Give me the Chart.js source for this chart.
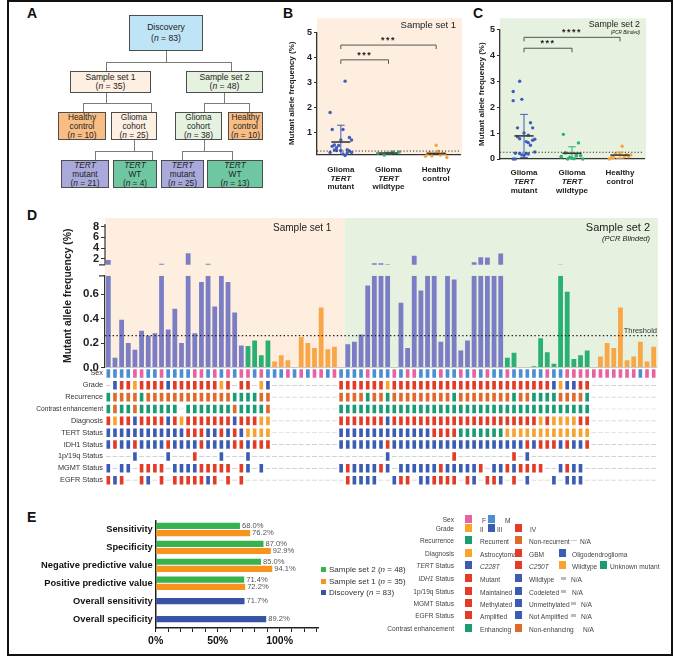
<!DOCTYPE html>
<html>
<head>
<meta charset="utf-8">
<title>TERT promoter mutant allele frequency</title>
<script src="https://cdn.jsdelivr.net/npm/chart.js@4.4.1/dist/chart.umd.min.js"></script>
<style>
  html, body { margin: 0; padding: 0; background: #fff; }
  body { font-family: 'Liberation Sans', Arial, sans-serif; color: #222; }
  #fig { position: relative; width: 676px; height: 657px; overflow: hidden; }
  #frame { position: absolute; left: 7px; top: 0; width: 666px; height: 656px; border: 2px solid #111; box-sizing: border-box; }
  .tag { position: absolute; font: bold 14px/14px 'Liberation Sans', Arial, sans-serif; color: #111; }
  .box { position: absolute; box-sizing: border-box; border: 1.3px solid #4d4d4d; display: flex; align-items: center; justify-content: center; text-align: center; font-size: 8.3px; line-height: 9px; color: #222; }
  .ln { position: absolute; background: #7a7a7a; }
  canvas { position: absolute; }
  .leg { position: absolute; font-size: 8px; line-height: 9px; color: #333; white-space: nowrap; }
  .key { position: absolute; font-size: 6.6px; line-height: 8px; color: #444; white-space: nowrap; }
</style>
</head>
<body>
<div id="fig">
  <div id="frame"></div>

  <div class="tag" style="left:27px;top:6px">A</div>
  <div class="tag" style="left:283px;top:6px">B</div>
  <div class="tag" style="left:473px;top:6px">C</div>
  <div class="tag" style="left:27px;top:208px">D</div>
  <div class="tag" style="left:27px;top:510px">E</div>

  <!-- panel A: cohort flow chart -->
  <div class="ln" style="left:166px;top:51px;width:1.3px;height:11px"></div>
  <div class="ln" style="left:106px;top:62px;width:126px;height:1.3px"></div>
  <div class="ln" style="left:106px;top:62px;width:1.3px;height:9px"></div>
  <div class="ln" style="left:231px;top:62px;width:1.3px;height:9px"></div>
  <div class="ln" style="left:106px;top:93px;width:1.3px;height:10px"></div>
  <div class="ln" style="left:83px;top:103px;width:69px;height:1.3px"></div>
  <div class="ln" style="left:83px;top:103px;width:1.3px;height:9px"></div>
  <div class="ln" style="left:151px;top:103px;width:1.3px;height:9px"></div>
  <div class="ln" style="left:224px;top:93px;width:1.3px;height:10px"></div>
  <div class="ln" style="left:204px;top:103px;width:46px;height:1.3px"></div>
  <div class="ln" style="left:204px;top:103px;width:1.3px;height:9px"></div>
  <div class="ln" style="left:249px;top:103px;width:1.3px;height:9px"></div>
  <div class="ln" style="left:134px;top:140px;width:1.3px;height:11px"></div>
  <div class="ln" style="left:95px;top:151px;width:58px;height:1.3px"></div>
  <div class="ln" style="left:95px;top:151px;width:1.3px;height:9px"></div>
  <div class="ln" style="left:152px;top:151px;width:1.3px;height:9px"></div>
  <div class="ln" style="left:204px;top:140px;width:1.3px;height:11px"></div>
  <div class="ln" style="left:182px;top:151px;width:51px;height:1.3px"></div>
  <div class="ln" style="left:182px;top:151px;width:1.3px;height:9px"></div>
  <div class="ln" style="left:232px;top:151px;width:1.3px;height:9px"></div>

  <div class="box" style="left:129px;top:15px;width:74px;height:36px;background:#bfe4f6;font-size:8.6px;line-height:11px"><span>Discovery<br>(<i>n</i> = 83)</span></div>
  <div class="box" style="left:70px;top:71px;width:81px;height:22px;background:#fdf0e3;font-size:8.6px"><span>Sample set 1<br>(<i>n</i> = 35)</span></div>
  <div class="box" style="left:186px;top:71px;width:77px;height:22px;background:#e6f2e0;font-size:8.6px"><span>Sample set 2<br>(<i>n</i> = 48)</span></div>
  <div class="box" style="left:58px;top:112px;width:48px;height:28px;background:#f9bd84"><span>Healthy<br>control<br>(<i>n</i> = 10)</span></div>
  <div class="box" style="left:111px;top:112px;width:46px;height:28px;background:#fdf0e3"><span>Glioma<br>cohort<br>(<i>n</i> = 25)</span></div>
  <div class="box" style="left:175px;top:112px;width:47px;height:28px;background:#e6f2e0"><span>Glioma<br>cohort<br>(<i>n</i> = 38)</span></div>
  <div class="box" style="left:228px;top:112px;width:35px;height:28px;background:#f9bd84"><span>Healthy<br>control<br>(<i>n</i> = 10)</span></div>
  <div class="box" style="left:61px;top:160px;width:48px;height:28px;background:#a9aadb"><span><i>TERT</i><br>mutant<br>(<i>n</i> = 21)</span></div>
  <div class="box" style="left:113px;top:160px;width:44px;height:28px;background:#6fc7a2"><span><i>TERT</i><br>WT<br>(<i>n</i> = 4)</span></div>
  <div class="box" style="left:161px;top:160px;width:43px;height:28px;background:#a9aadb"><span><i>TERT</i><br>mutant<br>(<i>n</i> = 25)</span></div>
  <div class="box" style="left:207px;top:160px;width:56px;height:28px;background:#6fc7a2"><span><i>TERT</i><br>WT<br>(<i>n</i> = 13)</span></div>

  <canvas id="chartB" width="194" height="192" style="left:272px;top:8px"></canvas>
  <canvas id="chartC" width="200" height="192" style="left:455px;top:8px"></canvas>
  <canvas id="chartD" width="664" height="290" style="left:8px;top:205px"></canvas>
  <canvas id="chartE" width="320" height="143" style="left:8px;top:512px"></canvas>

  <!-- panel E legend -->
  <div style="position:absolute;left:321px;top:567px;width:5px;height:5px;background:#37b24d"></div>
  <div class="leg" style="left:329px;top:565px">Sample set 2 (<i>n</i> = 48)</div>
  <div style="position:absolute;left:321px;top:579px;width:5px;height:5px;background:#f7941d"></div>
  <div class="leg" style="left:329px;top:577px">Sample set 1 (<i>n</i> = 35)</div>
  <div style="position:absolute;left:321px;top:590px;width:5px;height:5px;background:#3953a4"></div>
  <div class="leg" style="left:329px;top:588px">Discovery (<i>n</i> = 83)</div>
  <div id="keyBox"></div>
</div>

<script>
// ---------- data ----------
// Panel D: mutant allele frequency (%) per patient
const set1Values = [1.8, 0.08, 0.39, 0.2, 0.145, 0.3, 0.26, 0.28, 1.12, 0.31, 0.48, 0.2, 3.05, 0.28, 0.7, 1.12, 0.5, 0.8, 0.7, 0.45, 0.18,
                    0.175, 0.22, 0.1, 0.22,
                    0.05, 0.1, 0.06, 0, 0.25, 0.2, 0.16, 0.49, 0.15, 0.17];
const set2Values = [0, 0.19, 0.21, 0.27, 0.67, 1.2, 1.2, 1.0, 0, 0.53, 0.16, 2.6, 0.63, 0.78, 0.76, 0.21, 0.86, 0.72, 0.14, 0.22, 1.4, 2.3, 2.25, 0.92, 3.0,
                    0.08, 0.12, 0, 0, 0.01, 0.24, 0.125, 0.03, 0.95, 0.62, 0.07, 0.1, 0.14,
                    0, 0.09, 0.2, 0.16, 0.49, 0.06, 0.09, 0.21, 0.05, 0.17];
// patients per group: glioma TERT mutant, glioma TERT wildtype, healthy control
const set1Counts = [21, 4, 10];
const set2Counts = [25, 13, 10];
const groupNames = [['Glioma', 'TERT', 'mutant'], ['Glioma', 'TERT', 'wildtype'], ['Healthy', 'control']];

// Panels B and C: group mean and SD as drawn
const set1Mean = [0.62, 0.18, 0.16];
const set1Sd = [0.67, 0.03, 0.05];
const set2Mean = [0.89, 0.22, 0.15];
const set2Sd = [0.83, 0.25, 0.12];
const set1Brackets = [{ from: 0, to: 1, y: 3.9, label: '***' }, { from: 0, to: 2, y: 4.49, label: '***' }];
const set2Brackets = [{ from: 0, to: 1, y: 4.27, label: '***' }, { from: 0, to: 2, y: 4.69, label: '****' }];
const threshold = 0.26;

// Panel D clinical tracks, one character per patient (set 1 then set 2), '-' = N/A
const heatRowNames = ['Sex', 'Grade', 'Recurrence', 'Contrast enhancement', 'Diagnosis', 'TERT Status', 'IDH1 Status', '1p/19q Status', 'MGMT Status', 'EGFR Status'];
const heatSet1 = [
  'MMMMF FMMFM MMMFF MFMFM FFMFM MMFMF MFFMF',
  '-3442 44443 44444 4424- 44-23 ----- -----',
  'RNNNN RNNNN NNNNN NNNNR RRRNN ----- -----',
  'EXEEX EEEEE E-EEE EEEEX EEEEX ----- -----',
  'GAGGO GGGGO GAGGG GGGGO GGGAA ----- -----',
  'CCCCC CCCCC CCTTT CCTCT CWWWW ----- -----',
  'WMWWM WWWWM WWWWM WWWWM MWMMM ----- -----',
  '----D ----D ---K- --D-- -D--- ----- -----',
  'U-UU- YYYY- UUUUY YYYY- YU-U- ----- -----',
  'ANA-- AN-A- AAAAA NA-A- A---- ----- -----'
];
const heatSet2 = [
  'MMMMF MMMFM FFMMM FMMFM FMFMM FMMMM MFMMF FFFFF FFFFF MFF',
  '44444 44244 44444 44444 44444 44444 44323 344-- ----- ---',
  'NNNNR NNRNN NNNNN NNRNN NNNNN NRNNR RRRNN NNR-- ----- ---',
  'EEEEE EEEEE EEEEE EEEEE EEEEE EEEEE EEEEE EEE-- ----- ---',
  'GGGGG GGOGG GGGGG GGGGG GGGGG GGGGG AGAAA AGG-- ----- ---',
  'CCCCC CCCCC CCCCT TTTUU UUUUU WWWWW WWWWW WWW-- ----- ---',
  'WWWWW WWMWW WWWWW WWWWW WWWWW WWWMW MMMWM WWM-- ----- ---',
  '----- --D-- ----- --K-- ----- -K-D- ----- ----- ----- ---',
  'UYUUU UYU-U UUUUU YUUUU UY-UU YUYYY Y--UY UU--- ----- ---',
  '-ANNN N--NA A-NNA AAA-A N-AAN -A-N- --N-N NN--- ----- ---'
];

// Panel E: diagnostic performance (%)
const metricLabels = ['Sensitivity', 'Specificity', 'Negative predictive value', 'Positive predictive value', 'Overall sensitivity', 'Overall specificity'];
const set2Metrics = [68.0, 87.0, 85.0, 71.4, null, null];
const set1Metrics = [76.2, 92.9, 94.1, 72.2, null, null];
const discoveryMetrics = [null, null, null, null, 71.7, 89.2];

// ---------- styling ----------
const FONT = "'Liberation Sans', Arial, Helvetica, sans-serif";
Chart.defaults.font.family = FONT;
Chart.defaults.color = '#222';
Chart.defaults.animation = false;
Chart.defaults.plugins.legend.display = false;
Chart.defaults.plugins.tooltip.enabled = false;

const ORANGE = '#f9a22e', BLUE = '#3b5cb3', RED = '#e33b25', GREEN = '#199b74', BROWN = '#e16a2a';
const heatPalette = [
  { M: '#4a8ed3', F: '#e8629f' },
  { '2': ORANGE, '3': BLUE, '4': RED },
  { R: GREEN, N: BROWN },
  { E: GREEN, X: BROWN },
  { A: ORANGE, G: RED, O: BLUE },
  { C: BLUE, T: RED, W: ORANGE, U: GREEN },
  { M: RED, W: BLUE },
  { K: RED, D: BLUE },
  { Y: RED, U: BLUE },
  { A: RED, N: BLUE }
];
const barColors = ['#7b7ec4', '#2aaf75', '#f9a646'];
const dotColors = ['#3f5fbb', '#2db370', '#f7a43e'];

function groupIndex(counts) {
  const out = [];
  counts.forEach((n, g) => { for (let i = 0; i < n; i++) out.push(g); });
  return out;
}
const set1Groups = groupIndex(set1Counts);
const set2Groups = groupIndex(set2Counts);

// ---------- panels B and C ----------
function dotPlot(id, values, groups, mean, sd, brackets, o) {
  const pts = [[], [], []];
  const seen = [0, 0, 0];
  values.forEach((v, i) => {
    const g = groups[i];
    const k = seen[g]++;
    pts[g].push({ x: g + (((k * 7) % 11) - 5) * 0.045, y: v });
  });

  const deco = {
    id: 'dotDeco',
    beforeDraw(chart) {
      const { ctx, chartArea: ca } = chart;
      ctx.save();
      ctx.fillStyle = o.bg;
      ctx.fillRect(ca.left, ca.top - o.bgTop, ca.right - ca.left + o.bgRight, ca.bottom - ca.top + o.bgTop);
      ctx.restore();
    },
    afterDatasetsDraw(chart) {
      const { ctx, chartArea: ca, scales: { x, y } } = chart;
      ctx.save();
      // threshold
      ctx.strokeStyle = '#333'; ctx.lineWidth = 1; ctx.setLineDash([1.2, 2]);
      const ty = y.getPixelForValue(threshold);
      ctx.beginPath(); ctx.moveTo(ca.left, ty); ctx.lineTo(ca.right, ty); ctx.stroke();
      ctx.setLineDash([]);
      // mean and SD
      for (let g = 0; g < 3; g++) {
        const cx = x.getPixelForValue(g);
        const hi = y.getPixelForValue(mean[g] + sd[g]);
        const lo = Math.min(ca.bottom, y.getPixelForValue(mean[g] - sd[g]));
        const cap = x.getPixelForValue(g + 0.08) - cx;
        ctx.strokeStyle = dotColors[g]; ctx.lineWidth = 1;
        ctx.beginPath();
        ctx.moveTo(cx, hi); ctx.lineTo(cx, lo);
        ctx.moveTo(cx - cap, hi); ctx.lineTo(cx + cap, hi);
        if (lo < ca.bottom) { ctx.moveTo(cx - cap, lo); ctx.lineTo(cx + cap, lo); }
        ctx.stroke();
        const half = x.getPixelForValue(g + 0.2) - cx;
        const my = y.getPixelForValue(mean[g]);
        ctx.strokeStyle = '#3a3a3a'; ctx.lineWidth = 1.6;
        ctx.beginPath(); ctx.moveTo(cx - half, my); ctx.lineTo(cx + half, my); ctx.stroke();
      }
      // significance brackets
      ctx.strokeStyle = '#555'; ctx.lineWidth = 1; ctx.fillStyle = '#222';
      ctx.font = 'bold 9px ' + FONT; ctx.textAlign = 'center'; ctx.textBaseline = 'alphabetic';
      if ('letterSpacing' in ctx) ctx.letterSpacing = '1.5px';
      brackets.forEach(b => {
        const x1 = x.getPixelForValue(b.from), x2 = x.getPixelForValue(b.to), by = y.getPixelForValue(b.y);
        ctx.beginPath();
        ctx.moveTo(x1, by + 4); ctx.lineTo(x1, by); ctx.lineTo(x2, by); ctx.lineTo(x2, by + 4);
        ctx.stroke();
        ctx.fillText(b.label, (x1 + x2) / 2, by - 2);
      });
      if ('letterSpacing' in ctx) ctx.letterSpacing = '0px';
      // category labels
      ctx.fillStyle = '#222'; ctx.textBaseline = 'middle';
      groupNames.forEach((lines, g) => {
        const cx = x.getPixelForValue(g);
        lines.forEach((t, k) => {
          ctx.font = (t === 'TERT' ? 'italic bold 8px ' : 'bold 8px ') + FONT;
          ctx.fillText(t, cx, ca.bottom + o.labelTop + k * o.labelGap);
        });
      });
      // sample set caption
      ctx.textAlign = 'right'; ctx.font = o.captionFont + FONT;
      ctx.fillText(o.caption, ca.right - 4, ca.top - o.captionUp);
      if (o.sub) {
        ctx.font = 'italic 4.6px ' + FONT;
        ctx.fillText(o.sub, ca.right - 4, ca.top - o.captionUp + 8);
      }
      ctx.restore();
    }
  };

  return new Chart(document.getElementById(id), {
    type: 'scatter',
    data: {
      datasets: pts.map((p, g) => ({
        data: p, backgroundColor: dotColors[g], borderColor: dotColors[g],
        pointRadius: 1.7, pointBorderWidth: 0, clip: false
      }))
    },
    options: {
      responsive: false,
      layout: { padding: o.padding },
      scales: {
        x: {
          type: 'linear', min: -0.5, max: 2.5,
          ticks: { display: false },
          grid: { display: true, drawOnChartArea: false, drawTicks: false },
          border: { display: true, color: '#333', width: 1.3 },
          afterFit: s => { s.height = o.xHeight; }
        },
        y: {
          type: 'linear', min: o.yMin, max: 5,
          afterBuildTicks: s => { s.ticks = o.yTicks.map(v => ({ value: v })); },
          ticks: { autoSkip: false, font: { size: 9, weight: 'bold' }, color: '#222', padding: 2 },
          grid: { drawOnChartArea: false, tickLength: 3, color: '#333' },
          border: { display: true, color: '#333', width: 1.3 },
          title: { display: true, text: 'Mutant allele frequency (%)', font: { size: 8, weight: 'bold' }, color: '#222', padding: { top: 2, bottom: 0 } },
          afterFit: s => { s.width = o.yWidth; }
        }
      }
    },
    plugins: [deco]
  });
}

dotPlot('chartB', set1Values, set1Groups, set1Mean, set1Sd, set1Brackets, {
  bg: '#fdeee0', bgTop: 14, bgRight: 2,
  padding: { left: 12.6, top: 24.3, right: 6, bottom: 0 },
  yWidth: 32.4, xHeight: 45.7, yMin: 0.13, yTicks: [1, 2, 3, 4, 5],
  labelTop: 15.7, labelGap: 8.3,
  caption: 'Sample set 1', captionFont: '9.5px ', captionUp: 7
});
dotPlot('chartC', set2Values, set2Groups, set2Mean, set2Sd, set2Brackets, {
  bg: '#e6f1df', bgTop: 11, bgRight: 2,
  padding: { left: 19.6, top: 21.3, right: 11, bottom: 0 },
  yWidth: 25.4, xHeight: 41, yMin: 0, yTicks: [0, 1, 2, 3, 4, 5],
  labelTop: 13.7, labelGap: 9,
  caption: 'Sample set 2', sub: '(PCR Blinded)', captionFont: '8.8px ', captionUp: 4.5
});

// ---------- panel D ----------
const LOW_MAX = 0.75;   // top of the lower (linear) section
const UP_MIN = 0.89;    // value at the foot of the upper section
const allValues = set1Values.concat(set2Values);
const allGroups = set1Groups.concat(set2Groups);
const patientLabels = allValues.map((v, i) => 'P' + (i + 1));
const splitAt = set1Values.length + 0.5;

const heatDatasets = heatRowNames.map((name, r) => {
  const codes = (heatSet1[r] + heatSet2[r]).replace(/ /g, '').split('');
  return {
    label: name, yAxisID: 'yHeat', grouped: false,
    data: codes.map(c => c === '-' ? [r - 0.05, r + 0.05] : [r - 0.42, r + 0.42]),
    backgroundColor: codes.map(c => c === '-' ? '#d2d2d2' : heatPalette[r][c]),
    borderColor: codes.map(c => c === '-' ? '#d2d2d2' : 'rgba(255,255,255,0.55)'),
    borderWidth: 0.7, borderSkipped: false,
    barPercentage: 0.76, categoryPercentage: 1
  };
});

const dDeco = {
  id: 'dDeco',
  beforeDraw(chart) {
    const { ctx, chartArea: ca, scales: { x, yLow } } = chart;
    const split = x.getPixelForValue(splitAt);
    const top = ca.top - 6;
    ctx.save();
    ctx.fillStyle = '#fdeee0'; ctx.fillRect(ca.left, top, split - ca.left, yLow.bottom - top);
    ctx.fillStyle = '#e6f1df'; ctx.fillRect(split, top, ca.right + 1 - split, yLow.bottom - top);
    ctx.restore();
  },
  afterDatasetsDraw(chart) {
    const { ctx, chartArea: ca, scales: { x, yLow, yUp } } = chart;
    const split = x.getPixelForValue(splitAt);
    ctx.save();
    // broken upper axis
    ctx.strokeStyle = '#333'; ctx.lineWidth = 1.2;
    const ub = yUp.getPixelForValue(UP_MIN);
    ctx.beginPath();
    ctx.moveTo(ca.left, ub); ctx.lineTo(ca.left, yUp.getPixelForValue(8.5));
    ctx.moveTo(ca.left - 6, ub); ctx.lineTo(ca.left, ub);
    ctx.moveTo(ca.left - 6, yLow.top); ctx.lineTo(ca.left, yLow.top);
    ctx.stroke();
    // baseline
    ctx.strokeStyle = '#bdbdbd'; ctx.lineWidth = 0.8;
    ctx.beginPath(); ctx.moveTo(ca.left, yLow.bottom); ctx.lineTo(ca.right, yLow.bottom); ctx.stroke();
    // threshold
    const ty = yLow.getPixelForValue(threshold);
    ctx.strokeStyle = '#222'; ctx.lineWidth = 1.2; ctx.setLineDash([1.4, 2.4]);
    ctx.beginPath(); ctx.moveTo(ca.left, ty); ctx.lineTo(ca.right, ty); ctx.stroke();
    ctx.setLineDash([]);
    ctx.fillStyle = '#333'; ctx.font = '7.5px ' + FONT; ctx.textAlign = 'right'; ctx.textBaseline = 'bottom';
    ctx.fillText('Threshold', ca.right, ty - 1);
    // captions
    ctx.fillStyle = '#222'; ctx.textBaseline = 'middle';
    ctx.font = '10px ' + FONT;
    ctx.fillText('Sample set 1', split - 13, ca.top + 4);
    ctx.font = '11px ' + FONT;
    ctx.fillText('Sample set 2', ca.right - 7, ca.top + 4);
    ctx.font = 'italic 7.5px ' + FONT;
    ctx.fillText('(PCR Blinded)', ca.right - 7, ca.top + 15);
    // axis title
    ctx.translate(ca.left - 37, (yUp.top + yLow.bottom) / 2);
    ctx.rotate(-Math.PI / 2);
    ctx.font = 'bold 10.4px ' + FONT; ctx.textAlign = 'center';
    ctx.fillText('Mutant allele frequency (%)', 0, 0);
    ctx.restore();
  }
};

new Chart(document.getElementById('chartD'), {
  type: 'bar',
  data: {
    labels: patientLabels,
    datasets: [
      {
        label: 'MAF', yAxisID: 'yLow', grouped: false,
        data: allValues.map(v => Math.min(v, LOW_MAX)),
        backgroundColor: allGroups.map(g => barColors[g]),
        barPercentage: 0.72, categoryPercentage: 1
      },
      {
        label: 'MAF (upper)', yAxisID: 'yUp', grouped: false,
        data: allValues.map(v => v > UP_MIN ? [UP_MIN, v] : null),
        backgroundColor: allGroups.map(g => barColors[g]),
        barPercentage: 0.72, categoryPercentage: 1
      }
    ].concat(heatDatasets)
  },
  options: {
    responsive: false,
    layout: { padding: { left: 0, top: 19, right: 15, bottom: 8 } },
    scales: {
      x: { type: 'category', display: false, offset: true, grid: { display: false } },
      yUp: {
        type: 'linear', position: 'left', stack: 'd', stackWeight: 52, weight: 3,
        min: -1.15, max: 8.5,
        afterBuildTicks: s => { s.ticks = [2, 4, 6, 8].map(v => ({ value: v })); },
        ticks: { autoSkip: false, font: { size: 11, weight: 'bold' }, color: '#222', padding: 2 },
        grid: { drawOnChartArea: false, tickLength: 4, color: '#333' },
        border: { display: false },
        afterFit: s => { s.width = 97; }
      },
      yLow: {
        type: 'linear', position: 'left', stack: 'd', stackWeight: 92, weight: 2,
        min: 0, max: LOW_MAX,
        afterBuildTicks: s => { s.ticks = [0, 0.2, 0.4, 0.6].map(v => ({ value: v })); },
        ticks: { autoSkip: false, font: { size: 11.5, weight: 'bold' }, color: '#222', padding: 2, callback: v => v.toFixed(1) },
        grid: { drawOnChartArea: false, tickLength: 4, color: '#333' },
        border: { display: true, color: '#333', width: 1.2 },
        afterFit: s => { s.width = 97; }
      },
      yHeat: {
        type: 'linear', position: 'left', stack: 'd', stackWeight: 119, weight: 1,
        min: -0.5, max: 9.5, reverse: true,
        afterBuildTicks: s => { s.ticks = heatRowNames.map((n, i) => ({ value: i })); },
        ticks: {
          autoSkip: false, color: '#333', padding: 2,
          font: c => ({ size: c.index === 3 ? 6.6 : 7.3 }),
          callback: v => heatRowNames[v]
        },
        grid: { display: false, drawTicks: false, tickLength: 0 },
        border: { display: false },
        afterFit: s => { s.width = 97; }
      }
    }
  },
  plugins: [dDeco]
});

// ---------- panel E ----------
const valueLabels = {
  id: 'valueLabels',
  afterDatasetsDraw(chart) {
    const ctx = chart.ctx;
    ctx.save();
    ctx.font = '7.6px ' + FONT; ctx.fillStyle = '#555'; ctx.textBaseline = 'middle'; ctx.textAlign = 'left';
    chart.data.datasets.forEach((ds, di) => {
      chart.getDatasetMeta(di).data.forEach((bar, i) => {
        const v = ds.data[i];
        if (v == null) return;
        ctx.fillText(v.toFixed(1) + '%', bar.x + 2, bar.y);
      });
    });
    ctx.restore();
  }
};

new Chart(document.getElementById('chartE'), {
  type: 'bar',
  data: {
    labels: metricLabels,
    datasets: [
      { label: 'Sample set 2 (n = 48)', data: set2Metrics, backgroundColor: '#37b24d' },
      { label: 'Sample set 1 (n = 35)', data: set1Metrics, backgroundColor: '#f7941d' },
      { label: 'Discovery (n = 83)', data: discoveryMetrics, backgroundColor: '#3953a4' }
    ]
  },
  options: {
    responsive: false,
    indexAxis: 'y',
    skipNull: true,
    datasets: { bar: { categoryPercentage: 0.8, barPercentage: 0.9, maxBarThickness: 6.2 } },
    layout: { padding: { left: 0, top: 8, right: 10, bottom: 0 } },
    scales: {
      x: {
        type: 'linear', min: 0, max: 131,
        afterBuildTicks: s => { s.ticks = [0, 10, 20, 30, 40, 50, 60, 70, 80, 90, 100, 110, 120, 130].map(v => ({ value: v })); },
        ticks: { autoSkip: false, maxRotation: 0, font: { size: 10.5, weight: 'bold' }, color: '#111', padding: 3,
                 callback: v => (v % 50 === 0 ? v + '%' : '') },
        grid: { drawOnChartArea: false, tickLength: 4, color: '#222' },
        border: { display: true, color: '#222', width: 1.5 },
        afterFit: s => { s.height = 27; }
      },
      y: {
        ticks: { font: { size: 9.3, weight: 'bold' }, color: '#111', padding: 3 },
        grid: { display: true, drawOnChartArea: false, drawTicks: false },
        border: { display: true, color: '#222', width: 1.5 },
        afterFit: s => { s.width = 147.7; }
      }
    }
  },
  plugins: [valueLabels]
});

// ---------- panel D key (HTML) ----------
const keySpec = [
  ['Sex', 520, [['s', '#e8629f', 465], ['t', 'F', 482], ['s', '#4a8ed3', 488], ['t', 'M', 505]]],
  ['Grade', 529, [['s', ORANGE, 465], ['t', 'II', 480], ['s', BLUE, 488], ['t', 'III', 497], ['s', RED, 515], ['t', 'IV', 530]]],
  ['Recurrence', 541, [['s', GREEN, 465], ['t', 'Recurrent', 480], ['s', BROWN, 515], ['t', 'Non-recurrent', 529], ['n', '', 571], ['t', 'N/A', 580]]],
  ['Diagnosis', 554, [['s', ORANGE, 465], ['t', 'Astrocytoma', 480], ['s', RED, 515], ['t', 'GBM', 529], ['s', BLUE, 559], ['t', 'Oligodendroglioma', 572]]],
  ['<i>TERT</i> Status', 566, [['s', BLUE, 465], ['t', '<i>C228T</i>', 480], ['s', RED, 515], ['t', '<i>C250T</i>', 529], ['s', ORANGE, 559], ['t', 'Wildtype', 572], ['s', GREEN, 600], ['t', 'Unknown mutant', 610]]],
  ['<i>IDH1</i> Status', 579, [['s', RED, 465], ['t', 'Mutant', 480], ['s', BLUE, 515], ['t', 'Wildtype', 529], ['g', '', 561], ['t', 'N/A', 571]]],
  ['1p/19q Status', 592, [['s', RED, 465], ['t', 'Maintained', 480], ['s', BLUE, 515], ['t', 'Codeleted', 529], ['g', '', 561], ['t', 'N/A', 572]]],
  ['MGMT Status', 604, [['s', RED, 465], ['t', 'Methylated', 480], ['s', BLUE, 515], ['t', 'Unmethylated', 529], ['g', '', 571], ['t', 'N/A', 581]]],
  ['EGFR Status', 616, [['s', RED, 465], ['t', 'Amplified', 480], ['s', BLUE, 515], ['t', 'Not Amplified', 529], ['g', '', 571], ['t', 'N/A', 581]]],
  ['Contrast enhancement', 629, [['s', GREEN, 465], ['t', 'Enhancing', 480], ['s', BROWN, 515], ['t', 'Non-enhancing', 529], ['t', 'N/A', 583]]]
];
const keyBox = document.getElementById('keyBox');
let html = '';
keySpec.forEach(([name, y, items]) => {
  html += `<div class="key" style="right:${676 - 454}px;top:${y - 4}px;text-align:right">${name}</div>`;
  items.forEach(([kind, val, x]) => {
    if (kind === 't') html += `<div class="key" style="left:${x}px;top:${y - 3}px">${val}</div>`;
    else if (kind === 's') html += `<div style="position:absolute;left:${x}px;top:${y - 5}px;width:6.5px;height:8px;background:${val}"></div>`;
    else if (kind === 'n') html += `<div style="position:absolute;left:${x}px;top:${y - 1}px;width:6px;height:1.4px;background:#ccc"></div>`;
    else html += `<div style="position:absolute;left:${x}px;top:${y - 2}px;width:5px;height:3px;background:#bbb"></div>`;
  });
});
keyBox.innerHTML = html;
</script>
</body>
</html>
